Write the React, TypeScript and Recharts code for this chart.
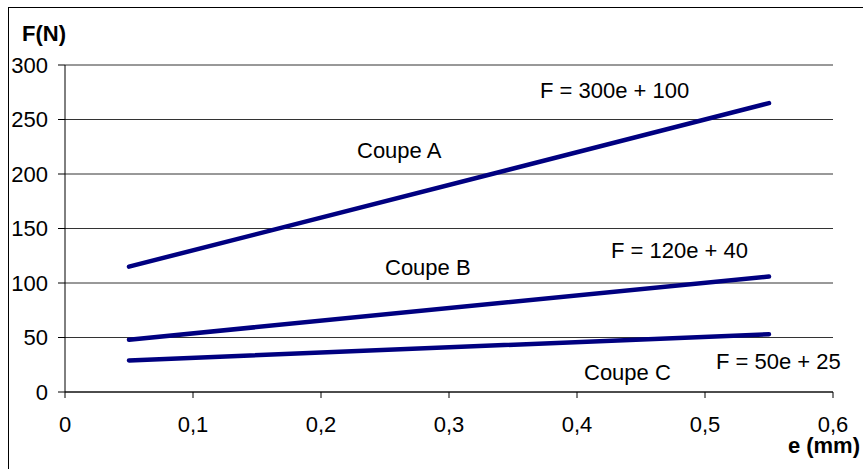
import React from 'react';
import { LineChart, Line, XAxis, YAxis, CartesianGrid } from 'recharts';

const eValues = [0.05, 0.55];
const coupeA = [115, 265];
const coupeB = [48, 106];
const coupeC = [29, 53];
const xTicks = [0, 0.1, 0.2, 0.3, 0.4, 0.5, 0.6];
const xTickLabels = ['0', '0,1', '0,2', '0,3', '0,4', '0,5', '0,6'];
const yTicks = [0, 50, 100, 150, 200, 250, 300];

const data = eValues.map((e, i) => ({ e, A: coupeA[i], B: coupeB[i], C: coupeC[i] }));

const FONT = "Arial, 'Liberation Sans', sans-serif";
const NAVY = '#000080';

const annotations = [
  { text: 'F(N)', x: 22, y: 41, bold: true, anchor: 'start' },
  { text: 'F = 300e + 100', x: 540, y: 98, bold: false, anchor: 'start' },
  { text: 'Coupe A', x: 357, y: 158, bold: false, anchor: 'start' },
  { text: 'F = 120e + 40', x: 611, y: 258, bold: false, anchor: 'start' },
  { text: 'Coupe B', x: 385, y: 275, bold: false, anchor: 'start' },
  { text: 'F = 50e + 25', x: 716, y: 369, bold: false, anchor: 'start' },
  { text: 'Coupe C', x: 584, y: 380, bold: false, anchor: 'start' },
  { text: 'e (mm)', x: 860, y: 453, bold: true, anchor: 'end' },
];

export default function App() {
  return (
    <div
      style={{
        position: 'absolute',
        left: 8,
        top: 7,
        width: 855,
        height: 462,
        overflow: 'hidden',
        fontFamily: FONT,
      }}
    >
      <div
        style={{
          position: 'absolute',
          left: 0,
          top: 0,
          width: 900,
          height: 500,
          border: '1px solid #000',
          background: '#fff',
        }}
      >
        <LineChart
          width={880}
          height={470}
          data={data}
          margin={{ top: 57, right: 56, bottom: 0, left: 0 }}
        >
          <CartesianGrid vertical={false} stroke="#333" strokeWidth={1} />
          <XAxis
            dataKey="e"
            type="number"
            domain={[0, 0.6]}
            ticks={xTicks}
            height={86}
            tickSize={6}
            tickMargin={18}
            interval={0}
            tickFormatter={(v: number) => {
              const idx = xTicks.findIndex((t) => Math.abs(t - v) < 1e-9);
              return idx >= 0 ? xTickLabels[idx] : String(v);
            }}
            axisLine={{ stroke: '#000' }}
            tickLine={{ stroke: '#000' }}
            tick={{ fill: '#000', fontSize: 22, fontFamily: FONT }}
          />
          <YAxis
            type="number"
            domain={[0, 300]}
            ticks={yTicks}
            width={56}
            tickSize={7}
            tickMargin={10}
            interval={0}
            axisLine={{ stroke: '#000' }}
            tickLine={{ stroke: '#000' }}
            tick={{ fill: '#000', fontSize: 22, fontFamily: FONT }}
          />
          <Line dataKey="A" stroke={NAVY} strokeWidth={4.5} strokeLinecap="round" dot={false} isAnimationActive={false} />
          <Line dataKey="B" stroke={NAVY} strokeWidth={4.5} strokeLinecap="round" dot={false} isAnimationActive={false} />
          <Line dataKey="C" stroke={NAVY} strokeWidth={4.5} strokeLinecap="round" dot={false} isAnimationActive={false} />
        </LineChart>
      </div>
      <svg
        width={863}
        height={469}
        style={{ position: 'absolute', left: -8, top: -7, pointerEvents: 'none' }}
      >
        {annotations.map((a) => (
          <text
            key={a.text}
            x={a.x}
            y={a.y}
            textAnchor={a.anchor as 'start' | 'end'}
            fontFamily={FONT}
            fontSize={22}
            fontWeight={a.bold ? 'bold' : 'normal'}
            fill="#000"
          >
            {a.text}
          </text>
        ))}
      </svg>
    </div>
  );
}
